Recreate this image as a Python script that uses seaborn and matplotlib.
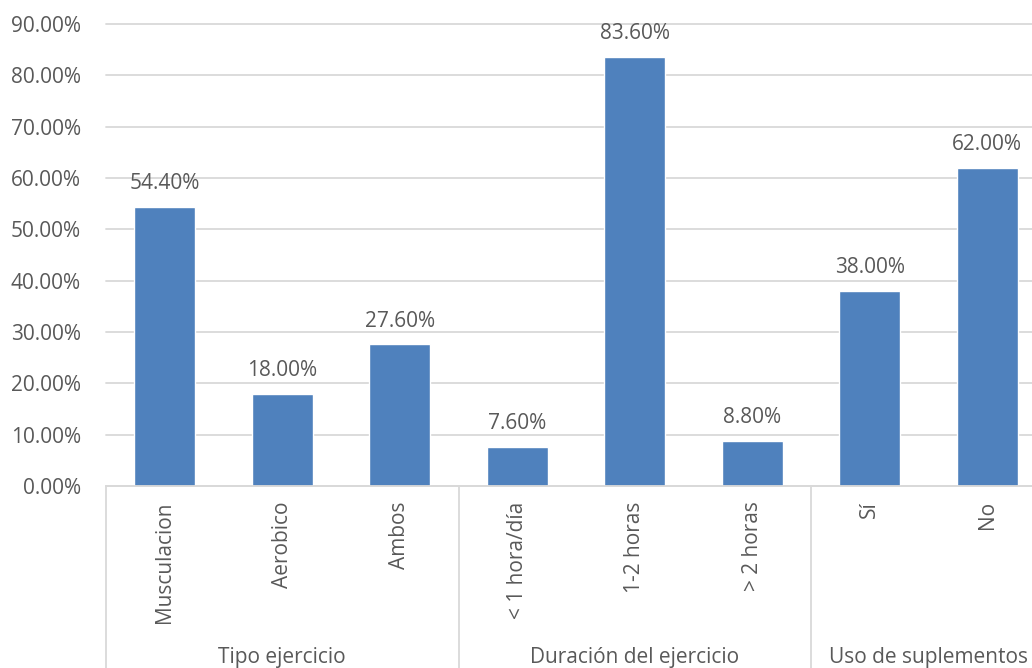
import matplotlib
matplotlib.use("Agg")
import matplotlib.pyplot as plt
import seaborn as sns
import pandas as pd

# Survey results by question group
categories = ["Musculacion", "Aerobico", "Ambos",
              "< 1 hora/día", "1-2 horas", "> 2 horas",
              "Sí", "No"]
percentages = [54.40, 18.00, 27.60, 7.60, 83.60, 8.80, 38.00, 62.00]
groups = ["Tipo ejercicio", "Tipo ejercicio", "Tipo ejercicio",
          "Duración del ejercicio", "Duración del ejercicio", "Duración del ejercicio",
          "Uso de suplementos", "Uso de suplementos"]
yticks = [0, 10, 20, 30, 40, 50, 60, 70, 80, 90]

df = pd.DataFrame({"categoria": categories, "porcentaje": percentages, "grupo": groups})

sns.set_theme(style="white")
plt.rcParams["font.family"] = ["Open Sans", "DejaVu Sans"]

text_color = "#595959"
grid_color = "#d9d9d9"
bar_color = "#4f81bd"

W, H = 1032, 668
fig = plt.figure(figsize=(W / 100, H / 100), dpi=100)
left, right, top, bottom = 106, 1046, 24, 486
ax = fig.add_axes([left / W, 1 - bottom / H, (right - left) / W, (bottom - top) / H])

sns.barplot(data=df, x="categoria", y="porcentaje", order=categories,
            color=bar_color, saturation=1, width=0.52, ax=ax)

ax.set_xlim(-0.5, len(categories) - 0.5)
ax.set_ylim(0, 90)
ax.set_yticks(yticks)
ax.set_yticklabels([f"{v:.2f}%" for v in yticks], fontsize=15, color=text_color)
ax.yaxis.grid(True, color=grid_color, linewidth=1.3, clip_on=False)
ax.set_axisbelow(True)
for s in ["top", "right", "left"]:
    ax.spines[s].set_visible(False)
ax.spines["bottom"].set_color(grid_color)
ax.spines["bottom"].set_linewidth(1.3)
ax.tick_params(axis="both", length=0)
ax.tick_params(axis="y", pad=18)
ax.tick_params(axis="x", pad=11)
ax.set_xticks(range(len(categories)))
ax.set_xticklabels(categories, rotation=90, fontsize=15, color=text_color)
ax.set_xlabel("")
ax.set_ylabel("")

# Value labels on each bar
ax.bar_label(ax.containers[0], labels=[f"{v:.2f}%" for v in percentages],
             padding=9, fontsize=15, color=text_color)

# Multi-level category axis: separators and group names
trans = ax.get_xaxis_transform()
depth = -(H - bottom) / (bottom - top)
group_names = list(dict.fromkeys(groups))
start = 0
edges = [-0.5]
centers = []
for g in group_names:
    n = groups.count(g)
    centers.append(start + (n - 1) / 2)
    start += n
    edges.append(start - 0.5)
for e in edges[:-1]:
    ax.plot([e, e], [0, depth], transform=trans, color=grid_color,
            linewidth=1.3, clip_on=False)
label_y = -(657 - bottom) / (bottom - top)
for g, c in zip(group_names, centers):
    ax.text(c, label_y, g, transform=trans, ha="center", va="center",
            fontsize=15, color=text_color)

fig.savefig("out.png", dpi=100)
